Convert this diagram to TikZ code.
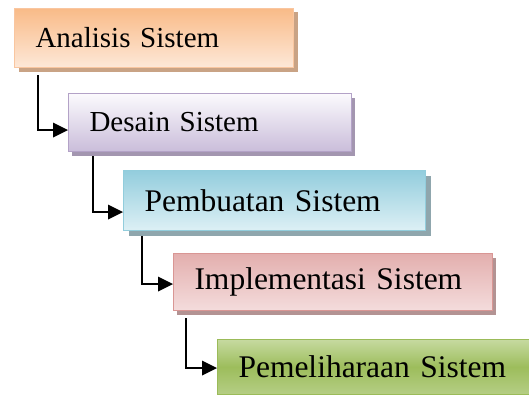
\documentclass[tikz,border=0pt]{standalone}
\usepackage{fontspec}
\setmainfont{Liberation Serif}
\usetikzlibrary{shadows,arrows.meta}
\begin{document}
\begin{tikzpicture}[
  stepbox/.style={rectangle, anchor=north west, inner xsep=21pt, inner ysep=0pt, align=left, line width=1pt},
  conn/.style={line width=1.6pt},
  tip/.style={fill=black},
  small/.style={font=\fontsize{29}{34}\selectfont},
  big/.style={font=\fontsize{31.5}{37}\selectfont}]
\definecolor{orTop}{HTML}{F9BB88}
\definecolor{orBot}{HTML}{FDE8D8}
\definecolor{orLine}{HTML}{F9C6A0}
\definecolor{orSh}{HTML}{C9A385}
\definecolor{puTop}{HTML}{FBFAFD}
\definecolor{puBot}{HTML}{CABDDA}
\definecolor{puLine}{HTML}{B3A2C7}
\definecolor{puSh}{HTML}{A396B0}
\definecolor{cyTop}{HTML}{93CDDD}
\definecolor{cyBot}{HTML}{DDF0F5}
\definecolor{cyLine}{HTML}{92CDDC}
\definecolor{cySh}{HTML}{8FA6AD}
\definecolor{reTop}{HTML}{E3AFAE}
\definecolor{reBot}{HTML}{F4DCDC}
\definecolor{reLine}{HTML}{D99694}
\definecolor{reSh}{HTML}{B39393}
\definecolor{grTop}{HTML}{C6DAA0}
\definecolor{grMid}{HTML}{9DBD5C}
\definecolor{grBot}{HTML}{B5CE85}
\definecolor{grLine}{HTML}{9BBB59}
\begin{scope}[x=1pt,y=-1pt]
\useasboundingbox (0,0) rectangle (529,396);
\node[stepbox, small, minimum width=279pt, minimum height=59pt, text width=237pt,
  draw=orLine, top color=orTop, bottom color=orBot,
  drop shadow={shadow xshift=4pt, shadow yshift=-4pt, fill=orSh, opacity=1}]
  (a) at (14,8) {Analisis Sistem};
\node[stepbox, small, minimum width=283pt, minimum height=58pt, text width=241pt,
  draw=puLine, top color=puTop, bottom color=puBot,
  drop shadow={shadow xshift=3pt, shadow yshift=-4pt, fill=puSh, opacity=1}]
  (b) at (68,93) {Desain Sistem};
\node[stepbox, big, minimum width=302pt, minimum height=60pt, text width=260pt,
  draw=cyLine, top color=cyTop, bottom color=cyBot,
  drop shadow={shadow xshift=5pt, shadow yshift=-5pt, fill=cySh, opacity=1}]
  (c) at (123,170) {Pembuatan Sistem};
\node[stepbox, big, minimum width=319pt, minimum height=57pt, text width=277pt,
  draw=reLine, top color=reTop, bottom color=reBot,
  drop shadow={shadow xshift=3pt, shadow yshift=-4pt, fill=reSh, opacity=1}]
  (d) at (173,253) {Implementasi Sistem};
\node[stepbox, big, minimum width=323pt, minimum height=55pt, text width=281pt,
  draw=grLine, top color=grTop, bottom color=grBot, middle color=grMid]
  (e) at (217,339) {Pemeliharaan Sistem};
\coordinate (s1) at (38,75);
\coordinate (t1) at (68,130);
\coordinate (s2) at (93,156);
\coordinate (t2) at (123,212);
\coordinate (s3) at (142,236);
\coordinate (t3) at (173,284);
\coordinate (s4) at (186,318);
\coordinate (t4) at (217,368);
\end{scope}
\foreach \i in {1,2,3,4}{
  \draw[conn] (s\i) |- ([xshift=-12pt]t\i);
  \fill[tip] (t\i) -- ++(-15pt,7.5pt) -- ++(0,-15pt) -- cycle;
}
\end{tikzpicture}
\end{document}
